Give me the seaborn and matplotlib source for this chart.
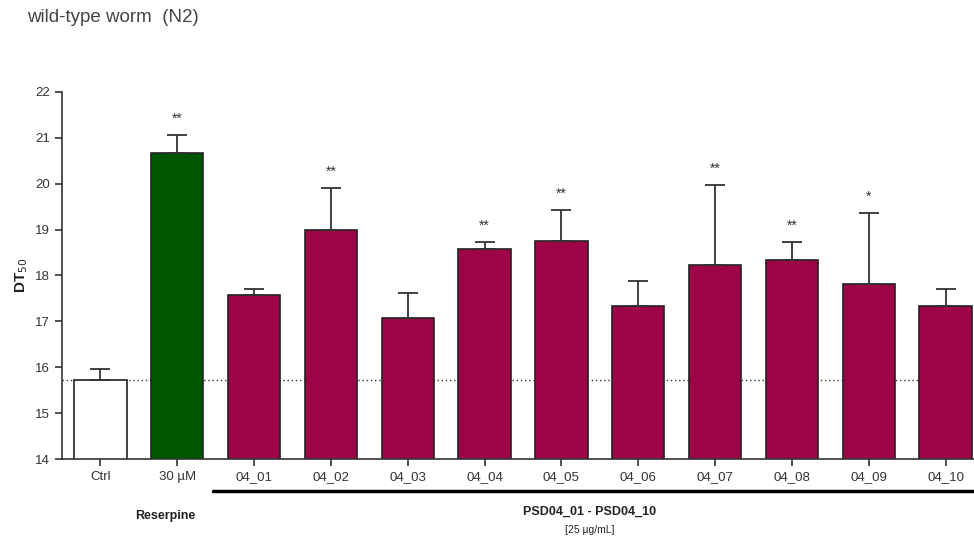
import numpy as np
import pandas as pd
import matplotlib
matplotlib.use("Agg")
import matplotlib.pyplot as plt
import seaborn as sns

categories = ["Ctrl", "30 µM", "04_01", "04_02", "04_03", "04_04", "04_05",
              "04_06", "04_07", "04_08", "04_09", "04_10"]
means = [15.73, 20.68, 17.58, 18.99, 17.08, 18.58, 18.75, 17.34, 18.23, 18.34, 17.82, 17.34]
err_top = [15.97, 21.06, 17.71, 19.91, 17.62, 18.73, 19.43, 17.89, 19.97, 18.73, 19.36, 17.71]
stars = ["", "**", "", "**", "", "**", "**", "", "**", "**", "*", ""]
groups = ["ctrl", "res"] + ["psd"] * 10

sns.set_style("ticks")
plt.rcParams['font.family'] = ['Liberation Sans', 'DejaVu Sans']

df = pd.DataFrame({"cat": categories, "mean": means, "group": groups})
pal = {"ctrl": "#ffffff", "res": "#005500", "psd": "#9e0548"}

fig = plt.figure(figsize=(9.74, 5.42), dpi=100)
ax = fig.add_axes([62/974, 1 - 459/542, (974 - 62)/974, (459 - 92)/542])

sns.barplot(data=df, x="cat", y="mean", hue="group", palette=pal, dodge=False,
            width=0.68, edgecolor="#222222", linewidth=1.2, legend=False, ax=ax,
            errorbar=None, saturation=1)

x = np.arange(len(categories))
up = np.array(err_top) - np.array(means)
ax.errorbar(x, means, yerr=[np.zeros_like(up), up], fmt="none", ecolor="#333333",
            elinewidth=1.3, capsize=7, capthick=1.3, zorder=1)

for xi, s, t in zip(x, stars, err_top):
    if s:
        ax.text(xi, t + 0.2, s, ha="center", va="bottom", fontsize=10, color="#333333")

ax.axhline(means[0], color="#333333", linestyle=(0, (1, 2)), linewidth=1.0, zorder=0.5)

ax.set_ylim(14, 22)
ax.set_yticks(range(14, 23))
ax.set_xlim(-0.5, 11.37)
ax.set_xlabel("")
ax.set_ylabel("DT$_{50}$", fontsize=11, fontweight="bold", color="#222222")
ax.tick_params(axis="both", labelsize=9.5, colors="#333333", length=5, width=1.2, direction="out")
for side in ["left", "bottom"]:
    ax.spines[side].set_linewidth(1.2)
    ax.spines[side].set_color("#333333")
sns.despine(ax=ax)

fig.text(27/974, 1 - 18/542, "wild-type worm  (N2)", fontsize=13.5, color="#444444",
         ha="left", va="center")

fig.add_artist(matplotlib.lines.Line2D([213/974, 974/974], [1 - 491/542, 1 - 491/542],
                                       color="black", linewidth=2.5))
fig.text(165/974, 1 - 516/542, "Reserpine", fontsize=9, fontweight="bold",
         ha="center", va="center", color="#222222")
fig.text(590/974, 1 - 512/542, "PSD04_01 - PSD04_10", fontsize=9, fontweight="bold",
         ha="center", va="center", color="#222222")
fig.text(590/974, 1 - 530/542, "[25 µg/mL]", fontsize=7.5,
         ha="center", va="center", color="#222222")

fig.savefig("out.png", dpi=100)
